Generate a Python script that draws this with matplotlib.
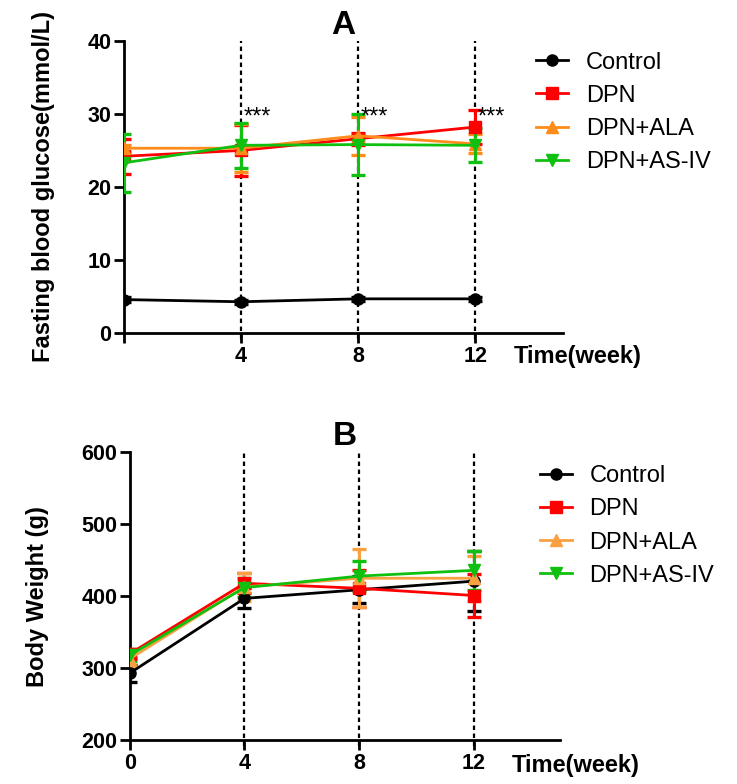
import matplotlib
matplotlib.use("Agg")
import matplotlib.pyplot as plt
from matplotlib.lines import Line2D

plt.rcParams["font.family"] = ["Liberation Sans", "DejaVu Sans"]

weeks = [0, 4, 8, 12]
groups = ["Control", "DPN", "DPN+ALA", "DPN+AS-IV"]

# fasting blood glucose (mmol/L), mean and error
glu_ctrl = [4.6, 4.3, 4.7, 4.7]
glu_ctrl_err = [0.3, 0.3, 0.3, 0.3]
glu_dpn = [24.2, 25.0, 26.6, 28.2]
glu_dpn_err = [2.4, 3.5, 0.8, 2.3]
glu_ala = [25.3, 25.3, 27.0, 25.9]
glu_ala_err = [0.5, 3.3, 2.6, 1.3]
glu_asiv = [23.3, 25.7, 25.8, 25.7]
glu_asiv_err = [4.0, 3.1, 4.2, 2.3]

# body weight (g), mean and error
bw_ctrl = [293, 397, 409, 421]
bw_ctrl_err = [12, 14, 19, 42]
bw_dpn = [320, 418, 411, 401]
bw_dpn_err = [6, 14, 26, 30]
bw_ala = [313, 413, 425, 425]
bw_ala_err = [12, 19, 40, 31]
bw_asiv = [318, 412, 428, 436]
bw_asiv_err = [8, 13, 21, 27]

sig_weeks = [4, 8, 12]

colors_a = ["black", "#FF0000", "#FF8C1A", "#10C010"]
colors_b = ["black", "#FF0000", "#F9A040", "#10C010"]
markers = ["o", "s", "^", "v"]


def draw_panel(ax, series, errs, colors, ylim, yticks, xticklabels, ylabel,
               title, leg_anchor, time_y):
    for v in sig_weeks:
        ax.axvline(v, color="black", ls=(0, (2, 1.6)), lw=1.6, zorder=1,
                   ymin=-0.02, clip_on=False)
    for vals, err, c, m in zip(series, errs, colors, markers):
        ax.errorbar(weeks, vals, yerr=err, color=c, marker=m, ms=8,
                    lw=2, elinewidth=2.2, capsize=5, capthick=2.4, zorder=3)
    ax.set_xlim(0, 15)
    ax.set_ylim(*ylim)
    ax.set_yticks(yticks)
    ax.set_xticks(weeks)
    ax.set_xticklabels(xticklabels)
    for s in ["top", "right"]:
        ax.spines[s].set_visible(False)
    for s in ["left", "bottom"]:
        ax.spines[s].set_linewidth(2)
    ax.tick_params(width=2, length=7, labelsize=15.5, pad=2)
    for lab in ax.get_xticklabels() + ax.get_yticklabels():
        lab.set_fontweight("bold")
    ax.set_ylabel(ylabel, fontsize=17, fontweight="bold", labelpad=23)
    ax.set_title(title, fontsize=24, fontweight="bold", pad=5)
    ax.text(13.3, time_y, "Time(week)", transform=ax.get_xaxis_transform(),
            ha="left", va="center", fontsize=17, fontweight="bold")
    handles = [Line2D([0], [0], color=c, marker=m, ms=8, lw=2)
               for c, m in zip(colors, markers)]
    ax.legend(handles, groups, loc="upper left", bbox_to_anchor=leg_anchor,
              frameon=False, fontsize=17, handlelength=1.35, handletextpad=0.75,
              labelspacing=0.47, borderaxespad=0, borderpad=0)


fig = plt.figure(figsize=(7.37, 7.84), dpi=100)
ax_a = fig.add_axes([0.168, 0.575, 0.596, 0.373])
ax_b = fig.add_axes([0.176, 0.056, 0.584, 0.367])

draw_panel(ax_a, [glu_ctrl, glu_dpn, glu_ala, glu_asiv],
           [glu_ctrl_err, glu_dpn_err, glu_ala_err, glu_asiv_err],
           colors_a, (0, 40), [0, 10, 20, 30, 40], ["", "4", "8", "12"],
           "Fasting blood glucose(mmol/L)", "A", (0.939, 0.963), -0.08)
for v in sig_weeks:
    ax_a.text(v + 0.1, 28.7, "***", fontsize=17, ha="left", va="baseline")

draw_panel(ax_b, [bw_ctrl, bw_dpn, bw_ala, bw_asiv],
           [bw_ctrl_err, bw_dpn_err, bw_ala_err, bw_asiv_err],
           colors_b, (200, 600), [200, 300, 400, 500, 600], ["0", "4", "8", "12"],
           "Body Weight (g)", "B", (0.953, 0.955), -0.09)

fig.savefig("out.png", dpi=100)
